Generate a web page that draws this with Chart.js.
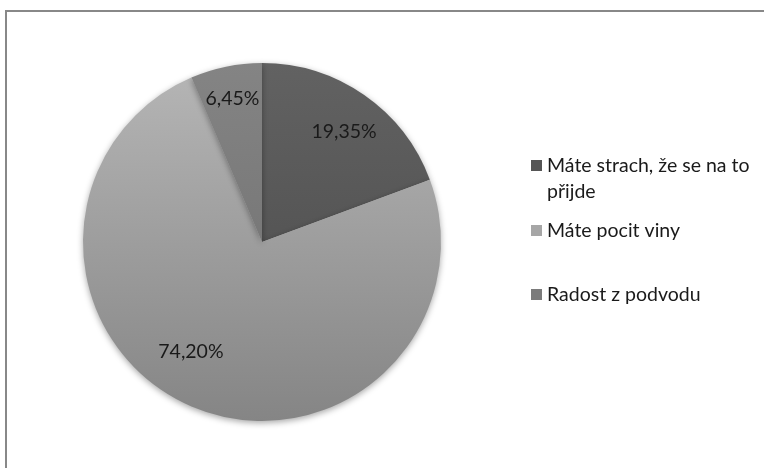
<!DOCTYPE html>
<html>
<head>
<meta charset="utf-8">
<script src="https://cdn.jsdelivr.net/npm/chart.js@4"></script>
<style>
  html, body { margin: 0; padding: 0; background: #fff; }
  #wrap { position: relative; width: 764px; height: 468px; }
</style>
</head>
<body>
<div id="wrap"><canvas id="c" width="764" height="468"></canvas></div>
<script>
// ---- data ----
const categories = ["Máte strach, že se na to přijde", "Máte pocit viny", "Radost z podvodu"];
const legendLines = [["Máte strach, že se na to", "přijde"], ["Máte pocit viny"], ["Radost z podvodu"]];
const values = [19.35, 74.20, 6.45];
const valueLabels = ["19,35%", "74,20%", "6,45%"];

// ---- style ----
const gradStops = [["#626262", "#484848"], ["#b6b6b6", "#858585"], ["#848484", "#6c6c6c"]];
const swatchColors = ["#555555", "#a6a6a6", "#7b7b7b"];
const labelRadius = [0.77, 0.73, 0.82];
const labelAngleShift = [0.03, 0.17, 0.0];
const legendY = [160, 225, 289];
const FONT = "Lato, 'Open Sans', sans-serif";

const framePlugin = {
  id: 'frame',
  beforeDraw(chart) {
    const ctx = chart.ctx;
    ctx.save();
    ctx.fillStyle = '#ffffff';
    ctx.fillRect(0, 0, chart.width, chart.height);
    ctx.fillStyle = '#888888';
    ctx.fillRect(5, 10, chart.width, 2);
    ctx.fillRect(5, 10, 2, chart.height);
    ctx.restore();
  }
};

const shadowPlugin = {
  id: 'shadow',
  beforeDatasetsDraw(chart) {
    const ctx = chart.ctx;
    ctx.save();
    ctx.shadowColor = 'rgba(0,0,0,0.35)';
    ctx.shadowBlur = 6;
    ctx.shadowOffsetY = 2;
  },
  afterDatasetsDraw(chart) {
    chart.ctx.restore();
  }
};

const labelPlugin = {
  id: 'valueLabels',
  afterDatasetsDraw(chart) {
    const ctx = chart.ctx;
    const meta = chart.getDatasetMeta(0);
    ctx.save();
    ctx.font = "19.5px " + FONT;
    ctx.fillStyle = '#1a1a1a';
    ctx.textAlign = 'center';
    ctx.textBaseline = 'middle';
    meta.data.forEach((arc, i) => {
      const p = arc.getProps(['x', 'y', 'startAngle', 'endAngle', 'outerRadius'], true);
      const a = (p.startAngle + p.endAngle) / 2 + labelAngleShift[i];
      const r = p.outerRadius * labelRadius[i];
      ctx.fillText(valueLabels[i], p.x + Math.cos(a) * r, p.y + Math.sin(a) * r);
    });
    ctx.restore();
  }
};

const legendPlugin = {
  id: 'customLegend',
  afterDraw(chart) {
    const ctx = chart.ctx;
    ctx.save();
    ctx.font = "19.5px " + FONT;
    ctx.textBaseline = 'alphabetic';
    ctx.textAlign = 'left';
    legendLines.forEach((lines, i) => {
      const y = legendY[i];
      ctx.fillStyle = swatchColors[i];
      ctx.fillRect(531, y, 11, 11);
      ctx.fillStyle = '#1a1a1a';
      lines.forEach((t, j) => ctx.fillText(t, 547, y + 12 + j * 26));
    });
    ctx.restore();
  }
};

function sliceColor(context) {
  const chart = context.chart;
  const i = context.dataIndex;
  const area = chart.chartArea;
  if (!area) return gradStops[i][0];
  const g = chart.ctx.createLinearGradient(0, area.top, 0, area.bottom);
  g.addColorStop(0, gradStops[i][0]);
  g.addColorStop(1, gradStops[i][1]);
  return g;
}

new Chart(document.getElementById('c'), {
  type: 'pie',
  data: {
    labels: categories,
    datasets: [{
      data: values,
      backgroundColor: sliceColor,
      borderWidth: 0
    }]
  },
  options: {
    responsive: false,
    animation: false,
    rotation: 0,
    layout: { padding: { left: 83, right: 323, top: 63, bottom: 47 } },
    plugins: {
      legend: { display: false },
      tooltip: { enabled: false }
    }
  },
  plugins: [framePlugin, shadowPlugin, labelPlugin, legendPlugin]
});
</script>
</body>
</html>
